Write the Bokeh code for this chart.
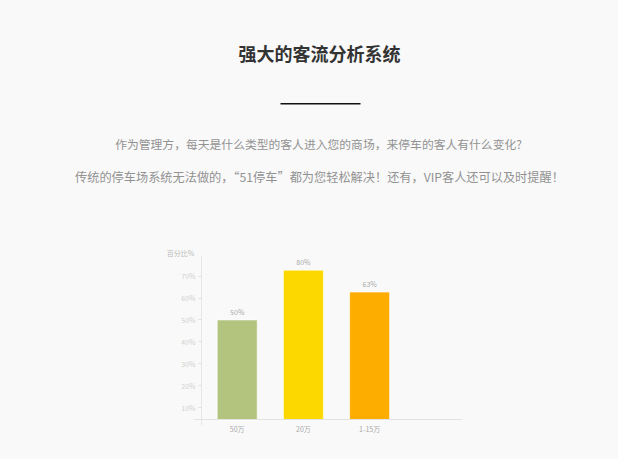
from bokeh.plotting import figure
from bokeh.layouts import column
from bokeh.models import Range1d, FixedTicker, ColumnDataSource
from bokeh.core.properties import value
from bokeh.embed import file_html
from bokeh.resources import INLINE

# ---- data ----
title_text = "强大的客流分析系统"
para1 = "作为管理方，每天是什么类型的客人进入您的商场，来停车的客人有什么变化?"
para2 = "传统的停车场系统无法做的，“51停车”都为您轻松解决！还有，VIP客人还可以及时提醒！"
categories = ["50万", "20万", "1-15万"]
bar_heights = [50, 72.7, 62.7]
bar_labels = ["50%", "80%", "63%"]
bar_colors = ["#b2c47e", "#fdd800", "#fdad00"]
y_ticks = [10, 20, 30, 40, 50, 60, 70]
y_axis_title = "百分比%"
baseline = 4.5

BG = "#f9f9f9"
FONT = "Noto Sans CJK SC"
W = 618
HH = 240
CH = 219

# ---- header (pixel-like coordinates) ----
head = figure(width=W, height=HH, x_range=Range1d(0, W), y_range=Range1d(HH, 0),
              output_backend="svg", toolbar_location=None, min_border=0)
head.axis.visible = False
head.grid.visible = False
head.outline_line_color = None
head.background_fill_color = BG
head.border_fill_color = BG

head.text(x=[319], y=[52], text=[title_text], text_font=value(FONT), text_font_style="bold",
          text_font_size="18px", text_color="#333333", text_align="center", text_baseline="middle")
head.segment(x0=[280], y0=[103.3], x1=[360], y1=[103.3], line_color="#111111", line_width=1.5)
head.text(x=[318], y=[142.7], text=[para1], text_font=value(FONT),
          text_font_size="11.8px", text_color="#929292", text_align="center", text_baseline="middle")
head.text(x=[322], y=[176.7], text=[para2], text_font=value(FONT),
          text_font_size="12.2px", text_color="#929292", text_align="center", text_baseline="middle")

# ---- chart ----
xs = list(range(len(categories)))
src = ColumnDataSource(dict(x=xs, top=bar_heights, lab=bar_labels, color=bar_colors))

p = figure(width=W, height=CH, x_range=Range1d(-3.576, 5.760), y_range=Range1d(-13.58, 86.2),
           output_backend="svg", toolbar_location=None, min_border=0)
p.background_fill_color = BG
p.border_fill_color = BG
p.outline_line_color = None
p.grid.visible = False

p.vbar(x="x", top="top", bottom=baseline, width=0.604, source=src, fill_color="color",
       line_color="white", line_alpha=0.6, line_width=1)
p.text(x="x", y="top", text="lab", source=src, text_font=value(FONT), text_font_size="7px",
       text_color="#aaaaaa", text_align="center", text_baseline="bottom", y_offset=-3)
p.text(x=[-0.857], y=[80.3], text=[y_axis_title], text_font=value(FONT), text_font_size="7px",
       text_color="#bbbbbb", text_align="center", text_baseline="middle")

p.xaxis.fixed_location = baseline
p.xaxis.bounds = (-0.66, 3.40)
p.xaxis.ticker = FixedTicker(ticks=xs)
p.xaxis.major_label_overrides = {i: c for i, c in zip(xs, categories)}
p.xaxis.axis_line_color = "#e2e2e2"
p.xaxis.major_tick_line_color = None
p.xaxis.major_tick_out = 0
p.xaxis.major_tick_in = 0
p.xaxis.minor_tick_line_color = None
p.xaxis.major_label_text_font = FONT
p.xaxis.major_label_text_font_size = "7px"
p.xaxis.major_label_text_color = "#aaaaaa"
p.xaxis.major_label_standoff = 4

p.yaxis.fixed_location = -0.539
p.yaxis.bounds = (1.9, 79.4)
p.yaxis.ticker = FixedTicker(ticks=y_ticks)
p.yaxis.major_label_overrides = {t: f"{t}%" for t in y_ticks}
p.yaxis.axis_line_color = "#e6e6e6"
p.yaxis.major_tick_line_color = "#e0e0e0"
p.yaxis.major_tick_out = 3
p.yaxis.major_tick_in = 0
p.yaxis.minor_tick_line_color = None
p.yaxis.major_label_text_font = FONT
p.yaxis.major_label_text_font_size = "7px"
p.yaxis.major_label_text_color = "#d0d0d0"
p.yaxis.major_label_standoff = 3

layout = column(head, p, spacing=0, styles={"background-color": BG})
open("out.html", "w").write(file_html(layout, INLINE))
